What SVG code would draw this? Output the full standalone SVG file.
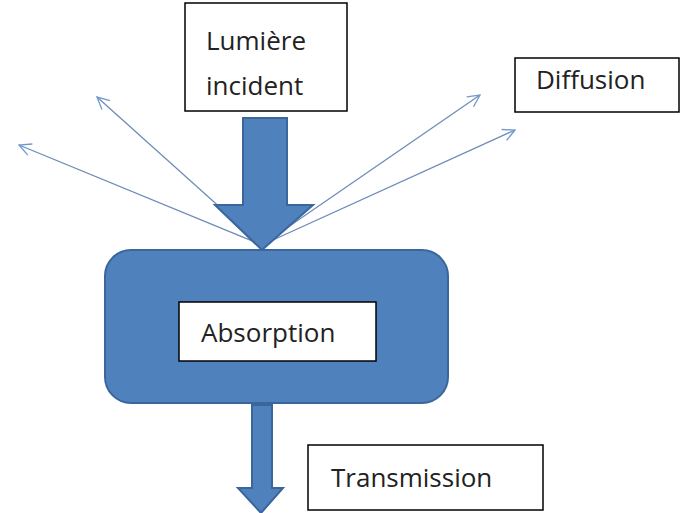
<svg xmlns="http://www.w3.org/2000/svg" width="684" height="513" viewBox="0 0 684 513">
<defs>
<style>
.box{fill:#fff;stroke:#000;stroke-width:1.5}
.lbl{font-family:"Open Sans","Liberation Sans",sans-serif;font-size:26px;fill:#222}
.blue{fill:#4f81bd;stroke:#3a669c;stroke-width:2}
.ray{stroke:#6f8cb8;stroke-width:1.3;fill:none;marker-end:url(#open)}
</style>
<marker id="open" viewBox="0 0 14 14" refX="13" refY="7" markerWidth="14" markerHeight="14" markerUnits="userSpaceOnUse" orient="auto">
<path d="M1,1 L13,7 L1,13" fill="none" stroke="#6f9ad0" stroke-width="1.3"/>
</marker>
</defs>
<rect width="684" height="513" fill="#fff"/>
<g id="connectors">
<line class="ray" x1="262" y1="245" x2="97" y2="97"/>
<line class="ray" x1="262" y1="245" x2="19" y2="145"/>
<line class="ray" x1="262" y1="245" x2="480" y2="95"/>
<line class="ray" x1="262" y1="245" x2="515" y2="130"/>
</g>
<g id="incident-arrow">
<path class="blue" d="M243,118 H287 V205 H313 L262,250 L215,205 H243 Z"/>
</g>
<g id="absorption-body">
<rect class="blue" x="105" y="250" width="343" height="153" rx="26"/>
</g>
<g id="transmission-arrow">
<path class="blue" d="M252,405 H272 V488 H283 L261,513 L238,488 H252 Z"/>
</g>
<g id="lumiere">
<rect class="box" x="185" y="3" width="162" height="108"/>
<text class="lbl" x="206" y="50">Lumière</text>
<text class="lbl" x="206" y="95">incident</text>
</g>
<g id="diffusion">
<rect class="box" x="515" y="58" width="164" height="54"/>
<text class="lbl" x="536" y="89">Diffusion</text>
</g>
<g id="absorption">
<rect class="box" x="179" y="302" width="197" height="59"/>
<text class="lbl" x="201" y="342">Absorption</text>
</g>
<g id="transmission">
<rect class="box" x="308" y="445" width="235" height="65"/>
<text class="lbl" x="331" y="487">Transmission</text>
</g>
</svg>
